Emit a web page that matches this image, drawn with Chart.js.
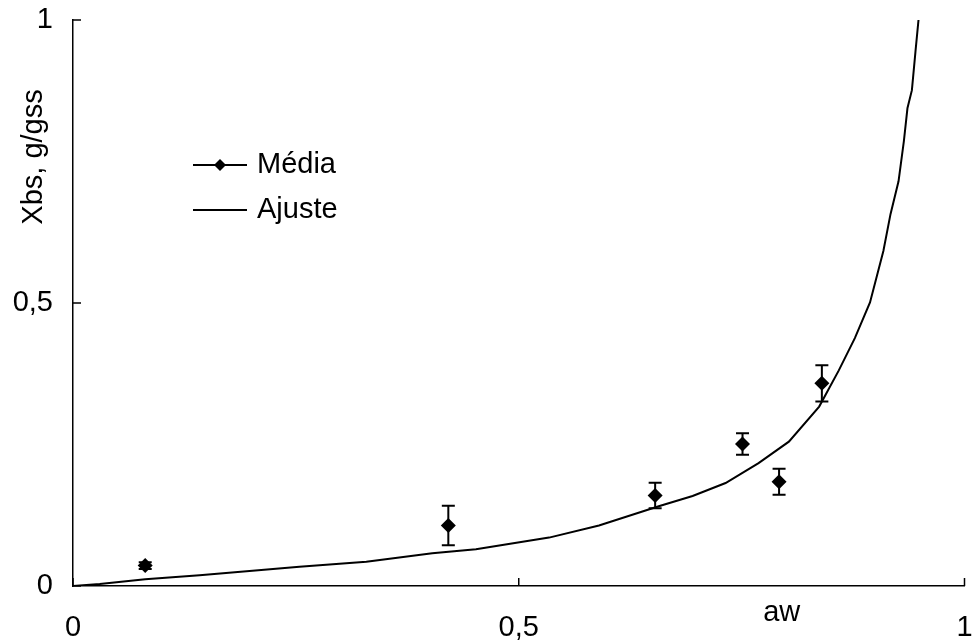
<!DOCTYPE html>
<html>
<head>
<meta charset="utf-8">
<script src="https://cdn.jsdelivr.net/npm/chart.js@4"></script>
<style>
  html, body { margin: 0; padding: 0; background: #fff; }
  #wrap { width: 972px; height: 642px; }
</style>
</head>
<body>
<div id="wrap"><canvas id="myChart" width="972" height="642"></canvas></div>
<script>
// pontos medidos (média e desvio)
const awMedia = [0.081, 0.421, 0.653, 0.751, 0.792, 0.840];
const xbsMedia = [0.036, 0.107, 0.160, 0.251, 0.184, 0.358];
const xbsErro = [0.006, 0.035, 0.0225, 0.019, 0.023, 0.032];

// curva de ajuste
const awAjuste = [0, 0.03, 0.081, 0.142, 0.254, 0.329, 0.403, 0.452, 0.534, 0.590, 0.657, 0.695, 0.732, 0.769, 0.803, 0.837, 0.859, 0.877, 0.894, 0.909, 0.917, 0.926, 0.932, 0.936, 0.941, 0.945, 0.949];
const xbsAjuste = [0, 0.0035, 0.012, 0.019, 0.034, 0.043, 0.058, 0.065, 0.0855, 0.107, 0.141, 0.159, 0.182, 0.217, 0.255, 0.317, 0.381, 0.438, 0.501, 0.592, 0.657, 0.715, 0.786, 0.844, 0.876, 0.944, 1.01];

const xTicks = [0, 0.5, 1];
const yTicks = [0, 0.5, 1];
const xTitle = 'aw';
const yTitle = 'Xbs, g/gss';

const fontFam = '"Liberation Sans", Arial, sans-serif';
const fontSize = 29;

const fmt = v => String(v).replace('.', ',');

// barras de erro
const errorBars = {
   id: 'errorBars',
   afterDatasetsDraw(chart) {
      const ctx = chart.ctx, x = chart.scales.x, y = chart.scales.y;
      ctx.save();
      ctx.strokeStyle = '#000';
      ctx.lineWidth = 2;
      awMedia.forEach((a, i) => {
         const px = x.getPixelForValue(a);
         const top = y.getPixelForValue(xbsMedia[i] + xbsErro[i]);
         const bot = y.getPixelForValue(xbsMedia[i] - xbsErro[i]);
         ctx.beginPath();
         ctx.moveTo(px, top); ctx.lineTo(px, bot);
         ctx.moveTo(px - 6.5, top); ctx.lineTo(px + 6.5, top);
         ctx.moveTo(px - 6.5, bot); ctx.lineTo(px + 6.5, bot);
         ctx.stroke();
      });
      ctx.restore();
   }
};

// ticks para dentro, titulos e legenda
const extras = {
   id: 'extras',
   afterDraw(chart) {
      const ctx = chart.ctx, x = chart.scales.x, y = chart.scales.y, area = chart.chartArea;
      ctx.save();
      ctx.strokeStyle = '#000';
      ctx.lineWidth = 1.5;
      ctx.beginPath();
      xTicks.forEach(v => {
         const px = x.getPixelForValue(v);
         ctx.moveTo(px, area.bottom); ctx.lineTo(px, area.bottom - 8);
      });
      yTicks.forEach(v => {
         const py = y.getPixelForValue(v);
         ctx.moveTo(area.left, py); ctx.lineTo(area.left + 8, py);
      });
      ctx.stroke();

      ctx.fillStyle = '#000';
      ctx.font = fontSize + 'px ' + fontFam;
      ctx.textAlign = 'center';
      ctx.textBaseline = 'middle';
      ctx.fillText(xTitle, x.getPixelForValue(0.795), 613);

      ctx.save();
      ctx.translate(34, 157);
      ctx.rotate(-Math.PI / 2);
      ctx.fillText(yTitle, 0, 0);
      ctx.restore();

      // legenda
      const items = chart.data.datasets;
      const lx = 193, lw = 54;
      [165, 210].forEach((ly, i) => {
         ctx.lineWidth = 2;
         ctx.beginPath();
         ctx.moveTo(lx, ly); ctx.lineTo(lx + lw, ly);
         ctx.stroke();
         if (i === 0) {
            ctx.beginPath();
            ctx.moveTo(lx + lw / 2, ly - 6);
            ctx.lineTo(lx + lw / 2 + 6, ly);
            ctx.lineTo(lx + lw / 2, ly + 6);
            ctx.lineTo(lx + lw / 2 - 6, ly);
            ctx.closePath();
            ctx.fill();
         }
         ctx.textAlign = 'left';
         ctx.fillText(items[i].label, lx + lw + 10, ly);
      });
      ctx.restore();
   }
};

const ctx = document.getElementById('myChart').getContext('2d');

const chart = new Chart(ctx, {
   type: 'scatter',
   data: {
      datasets: [{
         label: 'Média',
         data: awMedia.map((a, i) => ({x: a, y: xbsMedia[i]})),
         pointStyle: 'rectRot',
         pointRadius: 7.5,
         backgroundColor: '#000',
         borderColor: '#000',
         borderWidth: 0,
         showLine: false
      }, {
         label: 'Ajuste',
         data: awAjuste.map((a, i) => ({x: a, y: xbsAjuste[i]})),
         showLine: true,
         pointRadius: 0,
         borderColor: '#000',
         borderWidth: 2,
         tension: 0
      }]
   },
   options: {
      responsive: false,
      animation: false,
      events: [],
      layout: {padding: {top: 20, right: 5, left: 0, bottom: 0}},
      plugins: {legend: {display: false}, tooltip: {enabled: false}},
      scales: {
         x: {
            type: 'linear', min: 0, max: 1,
            afterBuildTicks: s => { s.ticks = xTicks.map(v => ({value: v})); },
            afterFit: s => { s.height = 56; s.paddingLeft = 0; s.paddingRight = 0; },
            grid: {display: false, drawTicks: false},
            border: {display: true, color: '#000', width: 1.5},
            ticks: {
               color: '#000', padding: 25, maxRotation: 0,
               font: {family: fontFam, size: fontSize},
               callback: v => fmt(v)
            }
         },
         y: {
            type: 'linear', min: 0, max: 1,
            afterBuildTicks: s => { s.ticks = yTicks.map(v => ({value: v})); },
            afterFit: s => { s.width = 73; s.paddingTop = 0; s.paddingBottom = 0; },
            grid: {display: false, drawTicks: false},
            border: {display: true, color: '#000', width: 1.5},
            ticks: {
               color: '#000', padding: 20,
               font: {family: fontFam, size: fontSize},
               callback: v => fmt(v)
            }
         }
      }
   },
   plugins: [errorBars, extras]
});
</script>
</body>
</html>
